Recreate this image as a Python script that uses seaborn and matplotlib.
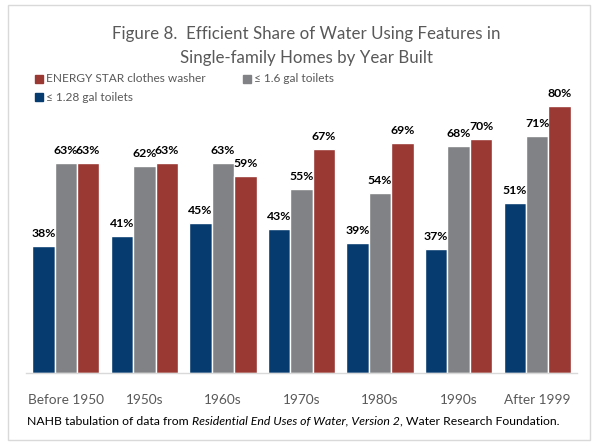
"""
Figure 8: Efficient share of water using features in single-family homes by year built
"""
import pandas as pd
import matplotlib.pyplot as plt
import seaborn as sns
from matplotlib.patches import Rectangle

# Daten
categories = ['Before 1950', '1950s', '1960s', '1970s', '1980s', '1990s', 'After 1999']
series_names = ['\u2264 1.28 gal toilets', '\u2264 1.6 gal toilets', 'ENERGY STAR clothes washer']
toilets_128 = [38, 41, 45, 43, 39, 37, 51]
toilets_16 = [63, 62, 63, 55, 54, 68, 71]
washer = [63, 63, 59, 67, 69, 70, 80]

colors = ['#063b6f', '#818285', '#9a3833']

df = pd.DataFrame({
    'Year built': categories * 3,
    'Feature': [series_names[0]] * 7 + [series_names[1]] * 7 + [series_names[2]] * 7,
    'Share': toilets_128 + toilets_16 + washer,
})

sns.set_theme(style='white')
plt.rcParams['font.family'] = ['Lato', 'DejaVu Sans']

fig = plt.figure(figsize=(6, 4.48), dpi=100)
ax = fig.add_axes([26.5 / 600, 1 - 373 / 448, 550 / 600, 276 / 448])

sns.barplot(data=df, x='Year built', y='Share', hue='Feature', hue_order=series_names,
            palette=colors, width=0.855, saturation=1, ax=ax, legend=False)

ax.set_ylim(0, 276 / 3.34)
ax.set_xlim(-0.5, 6.5)
ax.set_xlabel('')
ax.set_ylabel('')
ax.set_yticks([])
for s in ['top', 'right', 'left']:
    ax.spines[s].set_visible(False)
ax.spines['bottom'].set_color('#d9d9d9')
ax.spines['bottom'].set_linewidth(1)
ax.tick_params(axis='x', length=0, pad=15, labelsize=9.8, labelcolor='#595959')

# Werte über den Balken
for container in ax.containers:
    ax.bar_label(container, fmt='%d%%', padding=5, fontsize=8.8, fontweight='bold',
                 color='black')

# Titel
fig.text(0.51, 1 - 34 / 448, 'Figure 8.  Efficient Share of Water Using Features in',
         ha='center', va='center', fontsize=12.2, color='#595959')
fig.text(0.51, 1 - 58 / 448, 'Single-family Homes by Year Built',
         ha='center', va='center', fontsize=12.2, color='#595959')

# Legende (manuell)
legend_items = [(35, 79, colors[2], series_names[2]),
                (243, 79, colors[1], series_names[1]),
                (35, 97, colors[0], series_names[0])]
for lx, ly, c, name in legend_items:
    fig.patches.append(Rectangle((lx / 600, 1 - (ly + 4) / 448), 8 / 600, 8 / 448,
                                 color=c, transform=fig.transFigure))
    fig.text((lx + 11) / 600, 1 - ly / 448, name, ha='left', va='center',
             fontsize=8.6, color='#595959')

# Fussnote mit kursivem Teil
renderer = fig.canvas.get_renderer()
x = 27 / 600
y = 1 - 421 / 448
parts = [('NAHB tabulation of data from ', 'normal'),
         ('Residential End Uses of Water, Version 2', 'italic'),
         (', Water Research Foundation.', 'normal')]
for txt, style in parts:
    t = fig.text(x, y, txt, ha='left', va='center', fontsize=8.8, style=style, color='black')
    bb = t.get_window_extent(renderer=renderer)
    x = bb.x1 / fig.bbox.width

# Rahmen
fig.patches.append(Rectangle((8 / 600, 1 - 440 / 448), 582 / 600, 435 / 448,
                             fill=False, edgecolor='#d9d9d9', linewidth=1,
                             transform=fig.transFigure))

fig.savefig('out.png', dpi=100, facecolor='white')
